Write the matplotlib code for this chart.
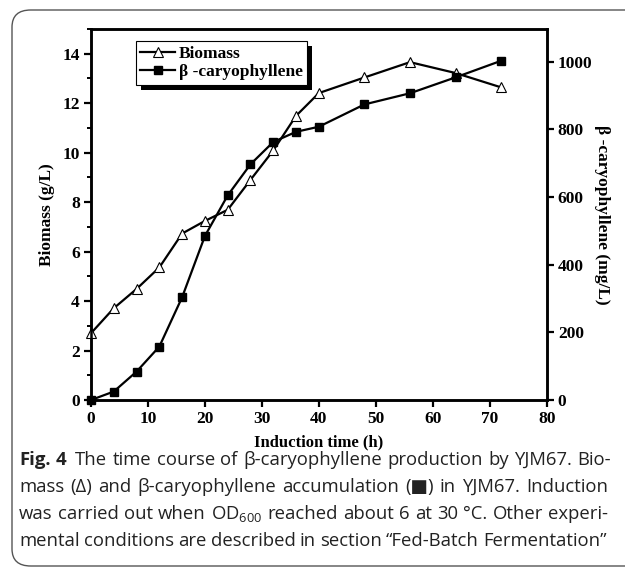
import matplotlib
matplotlib.use("Agg")
import matplotlib.pyplot as plt
import matplotlib.patheffects as pe
from matplotlib.patches import FancyBboxPatch
from matplotlib.ticker import MultipleLocator

# data
time_h = [0, 4, 8, 12, 16, 20, 24, 28, 32, 36, 40, 48, 56, 64, 72]
biomass = [2.70, 3.71, 4.49, 5.36, 6.73, 7.24, 7.69, 8.90, 10.09, 11.49,
           12.41, 13.04, 13.66, 13.22, 12.64]
caryophyllene = [0, 25, 84, 158, 304, 485, 605, 697, 763, 793,
                 808, 874, 907, 954, 1003]

x_ticks = [0, 10, 20, 30, 40, 50, 60, 70, 80]
left_ticks = [0, 2, 4, 6, 8, 10, 12, 14]
right_ticks = [0, 200, 400, 600, 800, 1000]

caption_lines = [
    "Fig. 4 The time course of \u03b2-caryophyllene production by YJM67. Bio-",
    "mass (\u0394) and \u03b2-caryophyllene accumulation (\u25a0) in YJM67. Induction",
    "was carried out when OD$_{600}$ reached about 6 at 30 \u00b0C. Other experi-",
    "mental conditions are described in section \u201cFed-Batch Fermentation\u201d",
]

serif = "Liberation Serif"
plt.rcParams["mathtext.fontset"] = "custom"
plt.rcParams["mathtext.rm"] = "Open Sans"

fig = plt.figure(figsize=(6.25, 5.7), dpi=100)
W, H = 625, 570

# rounded frame around figure + caption
frame = FancyBboxPatch((12 / W, 4 / H), 700 / W, 556 / H,
                       boxstyle="round,pad=0,rounding_size=0.03",
                       transform=fig.transFigure, fill=False,
                       edgecolor="#555555", linewidth=1.0)
fig.patches.append(frame)

ax = fig.add_axes([91 / W, 170 / H, 455.7 / W, 371 / H])
ax2 = ax.twinx()

l1, = ax.plot(time_h, biomass, color="black", lw=1.6, marker="^",
              markersize=6.5, markerfacecolor="white", markeredgecolor="black",
              markeredgewidth=0.8, label="Biomass", clip_on=False, zorder=3)
l2, = ax2.plot(time_h, caryophyllene, color="black", lw=1.6, marker="s",
               markersize=5.5, label="\u03b2 -caryophyllene", clip_on=False,
               zorder=3)

ax.set_xlim(0, 80)
ax.set_ylim(0, 15)
ax2.set_ylim(0, 1097)
ax.set_xticks(x_ticks)
ax.set_yticks(left_ticks)
ax.yaxis.set_minor_locator(MultipleLocator(1))
ax2.set_yticks(right_ticks)

for a in (ax, ax2):
    for s in a.spines.values():
        s.set_linewidth(1.8)
    a.tick_params(which="major", direction="out", length=5, width=1.6,
                  labelsize=12.5, pad=3)
    a.tick_params(which="minor", direction="out", length=3, width=1.4)
    for lab in a.get_xticklabels() + a.get_yticklabels():
        lab.set_fontfamily(serif)
        lab.set_fontweight("bold")

ax.set_xlabel("Induction time (h)", fontfamily=serif, fontweight="bold",
              fontsize=12, labelpad=5)
ax.set_ylabel("Biomass (g/L)", fontfamily=serif, fontweight="bold",
              fontsize=12.5, labelpad=5)
ax2.set_ylabel("\u03b2 -caryophyllene (mg/L)", fontfamily=serif,
               fontweight="bold", fontsize=12.5, rotation=270, labelpad=13)

leg = ax2.legend(handles=[l1, l2], loc="upper left",
                 bbox_to_anchor=(0.099, 0.967), borderaxespad=0,
                 prop={"family": serif, "weight": "bold", "size": 12.5},
                 fancybox=False, edgecolor="black", framealpha=1,
                 handlelength=2.0, handletextpad=0.2, borderpad=0.25,
                 labelspacing=0.15)
leg.get_frame().set_linewidth(0.8)
leg.get_frame().set_path_effects([
    pe.SimplePatchShadow(offset=(3.6, -3.6), shadow_rgbFace="black", alpha=1),
    pe.Normal()])

# caption, justified like the journal text block
cap_font = ["Open Sans", "DejaVu Sans"]
cap_size = 13.3
cap_col = "#222222"
x_left, x_right = 19, 608
line_y = [460, 487, 514, 541]

fig.canvas.draw()
renderer = fig.canvas.get_renderer()
for i, line in enumerate(caption_lines):
    words = line.split(" ")
    texts = []
    for j, w in enumerate(words):
        weight = "bold" if (i == 0 and j < 2) else "normal"
        t = fig.text(0, 1 - line_y[i] / H, w, fontfamily=cap_font,
                     fontweight=weight, fontsize=cap_size, va="center",
                     color=cap_col)
        texts.append(t)
    widths = [t.get_window_extent(renderer).width for t in texts]
    last = i == len(caption_lines) - 1
    if last:
        gap = 4.2
    else:
        gap = (x_right - x_left - sum(widths)) / (len(words) - 1)
    x = x_left
    for j, (t, w) in enumerate(zip(texts, widths)):
        t.set_x(x / W)
        x += w + gap
        if i == 0 and j == 1:
            x += 3

fig.savefig("out.png", dpi=100)
